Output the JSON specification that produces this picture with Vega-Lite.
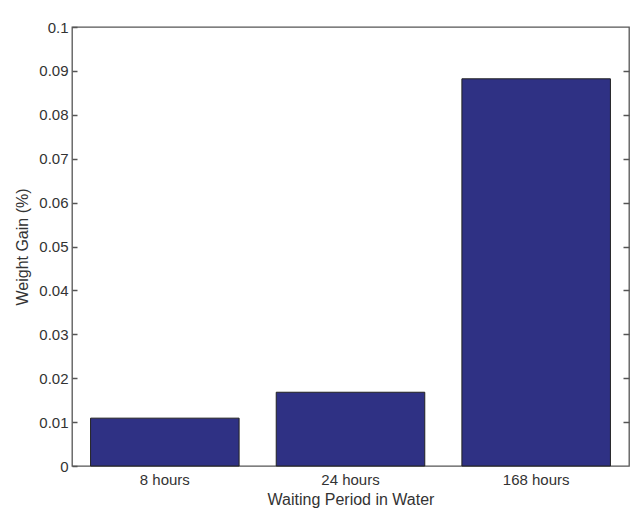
{
  "$schema": "https://vega.github.io/schema/vega-lite/v6.json",
  "autosize": "none",
  "width": 557,
  "height": 439,
  "padding": {"left": 72, "top": 27, "right": 11, "bottom": 49},
  "background": "white",
  "config": {
    "font": "Liberation Sans",
    "view": {"stroke": "#555", "strokeWidth": 1.3},
    "axis": {"grid": false, "domain": false, "labelColor": "#333", "titleColor": "#333", "labelFont": "Liberation Sans", "titleFont": "Liberation Sans", "titleFontWeight": "normal", "labelFontSize": 15, "titleFontSize": 16}
  },
  "data": {"values": [
    {"period": "8 hours", "gain": 0.0109},
    {"period": "24 hours", "gain": 0.0168},
    {"period": "168 hours", "gain": 0.0882}
  ]},
  "layer": [
    {
      "mark": {"type": "bar", "color": "#2f3184", "stroke": "#222", "strokeWidth": 1},
      "encoding": {
        "x": {"field": "period", "type": "nominal", "sort": null,
              "scale": {"paddingInner": 0.2, "paddingOuter": 0.1},
              "axis": {"title": "Waiting Period in Water", "labelAngle": 0, "ticks": false, "labelPadding": 6, "titlePadding": 4}},
        "y": {"field": "gain", "type": "quantitative",
              "scale": {"domain": [0, 0.1], "nice": false},
              "axis": {"title": "Weight Gain (%)", "orient": "left", "values": [0, 0.01, 0.02, 0.03, 0.04, 0.05, 0.06, 0.07, 0.08, 0.09, 0.1], "format": ".2~f", "ticks": true, "tickSize": -5, "tickColor": "#555", "tickWidth": 1.5, "labelPadding": 9, "titlePadding": 8, "zindex": 2}}
      }
    },
    {
      "mark": {"type": "bar", "opacity": 0},
      "encoding": {
        "x": {"field": "period", "type": "nominal", "sort": null},
        "y": {"field": "gain", "type": "quantitative",
              "axis": {"title": null, "orient": "right", "offset": -6, "labels": false, "ticks": true, "values": [0.01, 0.02, 0.03, 0.04, 0.05, 0.06, 0.07, 0.08, 0.09], "tickSize": 6, "tickColor": "#555", "tickWidth": 1.5, "zindex": 2}}
      }
    }
  ],
  "resolve": {"axis": {"y": "independent"}}
}
